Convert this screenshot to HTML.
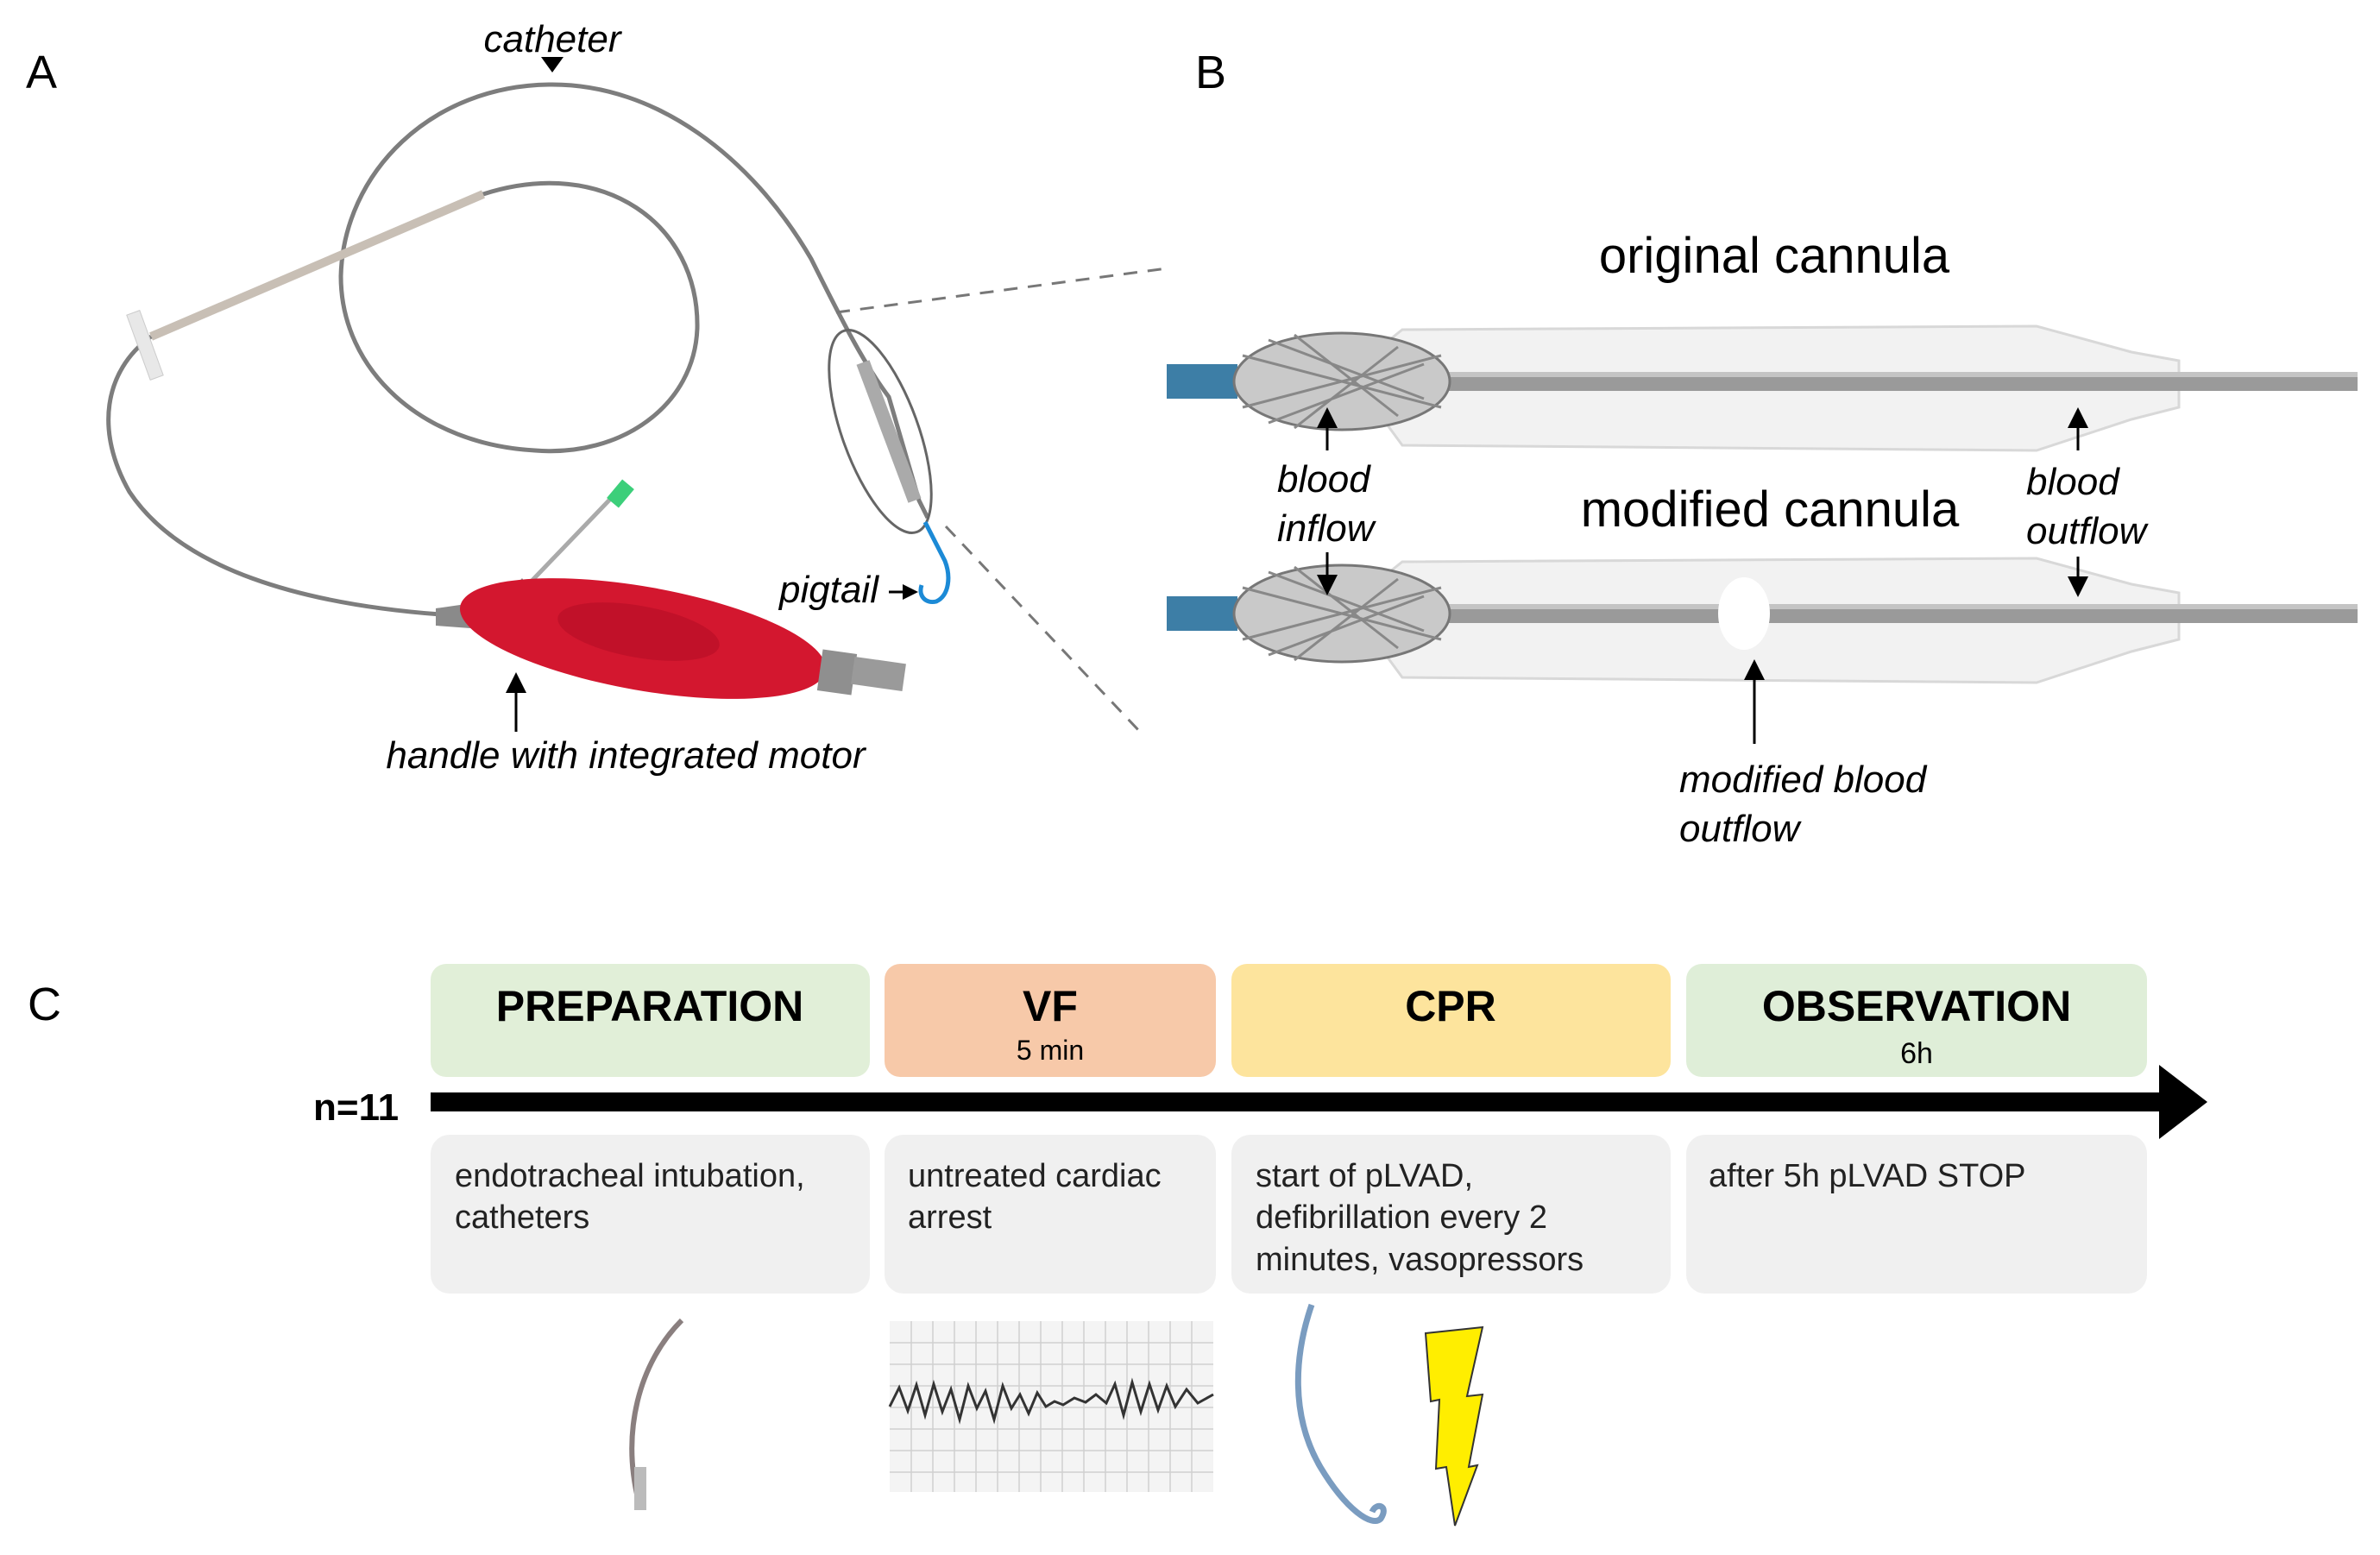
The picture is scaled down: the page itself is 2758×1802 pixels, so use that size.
<!DOCTYPE html>
<html><head><meta charset="utf-8"><style>
html,body{margin:0;padding:0;background:#fff}
svg{display:block}
text{font-family:"Liberation Sans",Arial,sans-serif}
</style></head><body>
<svg width="2758" height="1802" viewBox="0 0 2758 1802" xmlns="http://www.w3.org/2000/svg">
<defs>
<g id="can">
  <path d="M1600,-40 L1625,-60 L2360,-64 L2470,-34 L2525,-24 L2525,30 L2470,44 L2360,80 L1625,74 L1600,40 Z" fill="#f2f2f2" stroke="#d8d8d8" stroke-width="3"/>
  <rect x="1660" y="-11" width="1072" height="22" fill="#9a9a9a"/>
  <rect x="1660" y="-11" width="1072" height="6" fill="#c4c4c4"/>
  <rect x="1352" y="-20" width="82" height="40" fill="#3d7ea6"/>
  <ellipse cx="1555" cy="0" rx="125" ry="56" fill="#c9c9c9" stroke="#777" stroke-width="3"/>
  <path d="M1440,-30 L1670,30 M1440,30 L1670,-30 M1470,-48 L1650,20 M1470,48 L1650,-20 M1500,-54 L1620,40 M1500,54 L1620,-40" stroke="#888" stroke-width="3" fill="none"/>
</g>
<marker id="ah" markerWidth="8" markerHeight="8" refX="6" refY="4" orient="auto" markerUnits="strokeWidth"><path d="M0,0 L8,4 L0,8 Z" fill="#000"/></marker>
</defs>

<text x="30" y="102" font-size="54">A</text>
<text x="1385" y="102" font-size="54">B</text>
<text x="32" y="1182" font-size="54">C</text>

<text x="640" y="60" font-size="44" font-style="italic" text-anchor="middle">catheter</text>
<path d="M627,66 L653,66 L640,84 Z" fill="#000"/>
<path d="M175,390 L560,225 C700,180 810,260 808,380 C805,470 720,530 620,522 C490,515 395,430 395,320 C398,200 500,98 640,98 C760,98 870,180 940,300 C975,370 1000,420 1030,460 L1065,580 L1075,600" fill="none" stroke="#7d7d7d" stroke-width="5"/>
<path d="M175,390 L560,225" fill="none" stroke="#c8bfb5" stroke-width="10"/>
<path d="M175,390 C120,430 110,500 150,570 C210,660 350,700 510,712" fill="none" stroke="#7d7d7d" stroke-width="5"/>
<rect x="160" y="360" width="16" height="80" fill="#e8e8e8" stroke="#ccc" transform="rotate(-20 168 400)"/>
<ellipse cx="1020" cy="500" rx="44" ry="124" transform="rotate(-20 1020 500)" fill="none" stroke="#666" stroke-width="3"/>
<path d="M1000,420 L1060,580" stroke="#aaa" stroke-width="16"/>
<path d="M1072,605 L1095,650 C1102,668 1100,690 1085,697 C1072,700 1064,690 1068,678" fill="none" stroke="#1c8ad6" stroke-width="5"/>
<line x1="969" y1="362" x2="1352" y2="311" stroke="#777" stroke-width="3" stroke-dasharray="16,12"/>
<line x1="1096" y1="610" x2="1322" y2="849" stroke="#777" stroke-width="3" stroke-dasharray="16,12"/>
<text x="903" y="698" font-size="44" font-style="italic">pigtail</text>
<line x1="1030" y1="686" x2="1052" y2="686" stroke="#000" stroke-width="3"/>
<path d="M1046,677 L1064,686 L1046,695 Z" fill="#000"/>
<line x1="600" y1="690" x2="720" y2="565" stroke="#aaa" stroke-width="5"/>
<rect x="710" y="558" width="18" height="28" fill="#3ccf7a" transform="rotate(40 719 572)"/>
<path d="M585,692 L605,670 L620,690 Z" fill="#888"/>
<path d="M505,705 L540,700 L545,728 L505,725 Z" fill="#8a8a8a"/>
<ellipse cx="745" cy="740" rx="215" ry="60" transform="rotate(10 745 740)" fill="#d3172f"/>
<ellipse cx="740" cy="732" rx="95" ry="30" transform="rotate(10 740 732)" fill="#c11129"/>
<rect x="950" y="755" width="40" height="48" fill="#8f8f8f" transform="rotate(8 970 779)"/>
<rect x="988" y="765" width="60" height="32" fill="#9a9a9a" transform="rotate(8 1018 781)"/>
<line x1="598" y1="848" x2="598" y2="785" stroke="#000" stroke-width="3" marker-end="url(#ah)"/>
<text x="725" y="890" font-size="44" font-style="italic" text-anchor="middle">handle with integrated motor</text>

<text x="2056" y="316" font-size="58" text-anchor="middle">original cannula</text>
<use href="#can" transform="translate(0,442)"/>
<text x="2051" y="610" font-size="58" text-anchor="middle">modified cannula</text>
<use href="#can" transform="translate(0,711)"/>
<ellipse cx="2021" cy="711" rx="30" ry="42" fill="#fff"/>
<line x1="1538" y1="522" x2="1538" y2="478" stroke="#000" stroke-width="3" marker-end="url(#ah)"/>
<line x1="1538" y1="640" x2="1538" y2="684" stroke="#000" stroke-width="3" marker-end="url(#ah)"/>
<text x="1480" y="570" font-size="44" font-style="italic">blood</text>
<text x="1480" y="627" font-size="44" font-style="italic">inflow</text>
<line x1="2408" y1="522" x2="2408" y2="478" stroke="#000" stroke-width="3" marker-end="url(#ah)"/>
<line x1="2408" y1="645" x2="2408" y2="686" stroke="#000" stroke-width="3" marker-end="url(#ah)"/>
<text x="2348" y="573" font-size="44" font-style="italic">blood</text>
<text x="2348" y="630" font-size="44" font-style="italic">outflow</text>
<line x1="2033" y1="862" x2="2033" y2="770" stroke="#000" stroke-width="3" marker-end="url(#ah)"/>
<text x="1946" y="918" font-size="44" font-style="italic">modified blood</text>
<text x="1946" y="975" font-size="44" font-style="italic">outflow</text>

<rect x="499" y="1117" width="509" height="131" rx="18" fill="#e1efd8"/>
<rect x="1025" y="1117" width="384" height="131" rx="18" fill="#f7c9a9"/>
<rect x="1427" y="1117" width="509" height="131" rx="18" fill="#fde49d"/>
<rect x="1954" y="1117" width="534" height="131" rx="18" fill="#dfeed8"/>
<g font-weight="bold" font-size="50" text-anchor="middle">
<text x="753" y="1183">PREPARATION</text>
<text x="1217" y="1183">VF</text>
<text x="1681" y="1183">CPR</text>
<text x="2221" y="1183">OBSERVATION</text>
</g>
<text x="1217" y="1228" font-size="32" text-anchor="middle">5 min</text>
<text x="2221" y="1232" font-size="34" text-anchor="middle">6h</text>
<rect x="499" y="1266" width="2010" height="22" fill="#000"/>
<path d="M2502,1234 L2558,1277 L2502,1320 Z" fill="#000"/>
<text x="363" y="1298" font-size="44" font-weight="bold">n=11</text>
<rect x="499" y="1315" width="509" height="184" rx="22" fill="#f0f0f0"/>
<rect x="1025" y="1315" width="384" height="184" rx="22" fill="#f0f0f0"/>
<rect x="1427" y="1315" width="509" height="184" rx="22" fill="#f0f0f0"/>
<rect x="1954" y="1315" width="534" height="184" rx="22" fill="#f0f0f0"/>
<g font-size="38" fill="#222">
<text x="527" y="1375">endotracheal intubation,</text>
<text x="527" y="1423">catheters</text>
<text x="1052" y="1375">untreated cardiac</text>
<text x="1052" y="1423">arrest</text>
<text x="1455" y="1375">start of pLVAD,</text>
<text x="1455" y="1423">defibrillation every 2</text>
<text x="1455" y="1472">minutes, vasopressors</text>
<text x="1980" y="1375">after 5h pLVAD STOP</text>
</g>
<path d="M790,1530 C740,1580 720,1660 740,1740" fill="none" stroke="#8a7f7f" stroke-width="6"/>
<rect x="735" y="1700" width="14" height="50" fill="#bbb"/>
<rect x="1031" y="1531" width="375" height="198" fill="#f4f4f4"/>
<g stroke="#d0d0d0" stroke-width="1.5">
<path d="M1031,1556 H1406 M1031,1581 H1406 M1031,1606 H1406 M1031,1631 H1406 M1031,1656 H1406 M1031,1681 H1406 M1031,1706 H1406 M1056,1531 V1729 M1081,1531 V1729 M1106,1531 V1729 M1131,1531 V1729 M1156,1531 V1729 M1181,1531 V1729 M1206,1531 V1729 M1231,1531 V1729 M1256,1531 V1729 M1281,1531 V1729 M1306,1531 V1729 M1331,1531 V1729 M1356,1531 V1729 M1381,1531 V1729"/>
</g>
<path d="M1031,1630 L1042,1608 L1052,1635 L1062,1605 L1072,1640 L1082,1604 L1092,1636 L1102,1610 L1112,1645 L1122,1606 L1132,1632 L1142,1612 L1152,1645 L1162,1606 L1172,1632 L1182,1616 L1192,1638 L1202,1614 L1212,1630 L1222,1624 L1232,1628 L1245,1620 L1258,1625 L1270,1616 L1282,1626 L1292,1604 L1302,1640 L1312,1602 L1322,1636 L1332,1604 L1342,1634 L1352,1606 L1362,1630 L1375,1610 L1388,1626 L1406,1616" fill="none" stroke="#333" stroke-width="3"/>
<path d="M1520,1512 C1500,1570 1495,1640 1530,1700 C1560,1750 1590,1770 1600,1760 C1610,1745 1595,1740 1590,1752" fill="none" stroke="#7a9cc0" stroke-width="7"/>
<path d="M1652,1545 L1718,1538 L1700,1618 L1718,1616 L1702,1700 L1712,1698 L1686,1768 L1676,1700 L1664,1702 L1668,1622 L1658,1624 Z" fill="#ffee00" stroke="#333" stroke-width="2"/>
</svg>
</body></html>
